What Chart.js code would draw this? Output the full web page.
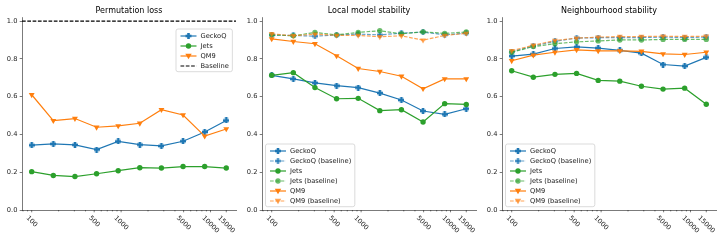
<!DOCTYPE html>
<html>
<head>
<meta charset="utf-8">
<script src="https://cdn.jsdelivr.net/npm/chart.js"></script>
<style>
  body { margin: 0; background: #fff; }
  #wrap { position: relative; width: 727px; height: 242px; }
  #wrap canvas { position: absolute; top: 0; }
</style>
</head>
<body>
<div id="wrap">
  <canvas id="permChart" width="240" height="242" style="left:0"></canvas>
  <canvas id="localChart" width="240" height="242" style="left:240px"></canvas>
  <canvas id="neighChart" width="240" height="242" style="left:480px"></canvas>
</div>
<script>
// training set sizes (log-spaced)
const sampleSizes = [100, 174.5, 304.6, 531.5, 927.5, 1618.6, 2824.5, 4929, 8601, 15000];
const xTickValues = [100, 500, 1000, 5000, 10000, 15000];
const xTickLabels = ['100', '500', '1000', '5000', '10000', '15000'];
const yTickValues = [0, 0.2, 0.4, 0.6, 0.8, 1.0];

// Permutation loss
const permGeckoQ = [0.343, 0.350, 0.345, 0.320, 0.363, 0.346, 0.339, 0.364, 0.413, 0.474];
const permJets = [0.203, 0.183, 0.177, 0.192, 0.208, 0.224, 0.222, 0.230, 0.230, 0.222];
const permQM9 = [0.610, 0.473, 0.484, 0.438, 0.445, 0.459, 0.531, 0.503, 0.391, 0.429];
const permBaseline = 1.0;

// Local model stability
const localGeckoQ = [0.713, 0.694, 0.673, 0.658, 0.648, 0.619, 0.582, 0.524, 0.506, 0.536];
const localGeckoQBase = [0.926, 0.924, 0.920, 0.926, 0.931, 0.927, 0.936, 0.942, 0.927, 0.936];
const localJets = [0.713, 0.727, 0.648, 0.589, 0.591, 0.526, 0.531, 0.466, 0.563, 0.559];
const localJetsBase = [0.927, 0.922, 0.940, 0.927, 0.940, 0.949, 0.933, 0.943, 0.935, 0.942];
const localQM9 = [0.906, 0.892, 0.880, 0.816, 0.749, 0.733, 0.708, 0.642, 0.694, 0.694];
const localQM9Base = [0.933, 0.922, 0.931, 0.924, 0.924, 0.917, 0.922, 0.899, 0.924, 0.935];

// Neighbourhood stability
const neighGeckoQ = [0.815, 0.825, 0.855, 0.863, 0.857, 0.845, 0.830, 0.770, 0.762, 0.808];
const neighGeckoQBase = [0.838, 0.868, 0.893, 0.910, 0.912, 0.912, 0.913, 0.915, 0.913, 0.915];
const neighJets = [0.737, 0.703, 0.718, 0.723, 0.686, 0.682, 0.655, 0.640, 0.645, 0.560];
const neighJetsBase = [0.835, 0.865, 0.880, 0.890, 0.895, 0.900, 0.900, 0.903, 0.903, 0.903];
const neighQM9 = [0.790, 0.820, 0.835, 0.848, 0.842, 0.842, 0.840, 0.826, 0.823, 0.835];
const neighQM9Base = [0.843, 0.872, 0.897, 0.910, 0.915, 0.918, 0.918, 0.920, 0.918, 0.920];

const BLUE = '#1f77b4', GREEN = '#2ca02c', ORANGE = '#ff7f0e';
const BLUE_A = 'rgba(31,119,180,0.7)', GREEN_A = 'rgba(44,160,44,0.7)', ORANGE_A = 'rgba(255,127,14,0.7)';
const FONT = '"DejaVu Sans", sans-serif';
const AXIS = '#222';
const DASH = [3.7, 1.6];

// filled plus marker, like matplotlib 'P'
function plusImage(color) {
	const c = document.createElement('canvas');
	c.width = 6; c.height = 6;
	const g = c.getContext('2d');
	g.fillStyle = color;
	g.fillRect(1.7, 0, 2.6, 6);
	g.fillRect(0, 1.7, 6, 2.6);
	return c;
}

function drawMarker(ctx, marker, color, x, y) {
	ctx.save();
	ctx.fillStyle = color;
	if (marker === 'plus') {
		ctx.fillRect(x - 3, y - 1.3, 6, 2.6);
		ctx.fillRect(x - 1.3, y - 3, 2.6, 6);
	} else if (marker === 'circle') {
		ctx.beginPath();
		ctx.arc(x, y, 2.7, 0, Math.PI * 2);
		ctx.fill();
	} else {
		ctx.beginPath();
		ctx.moveTo(x - 3.2, y - 2.2);
		ctx.lineTo(x + 3.2, y - 2.2);
		ctx.lineTo(x, y + 3.2);
		ctx.closePath();
		ctx.fill();
	}
	ctx.restore();
}

function series(label, values, color, marker, dashed) {
	const ds = {
		label: label,
		data: values.map((v, i) => ({ x: sampleSizes[i], y: v })),
		borderColor: color,
		backgroundColor: color,
		borderWidth: 1.2,
		borderDash: dashed ? DASH : [],
		pointBorderColor: color,
		pointBackgroundColor: color,
		pointBorderWidth: 0,
		pointRadius: 3,
		tension: 0,
		marker: marker,
		dashed: dashed
	};
	if (marker === 'plus') {
		ds.pointStyle = plusImage(color);
	} else if (marker === 'circle') {
		ds.pointStyle = 'circle';
		ds.pointRadius = 2.7;
	} else {
		ds.pointStyle = 'triangle';
		ds.pointRotation = 180;
		ds.pointRadius = 3.4;
	}
	return ds;
}

function decorPlugin(title, legend, baseline) {
	return {
		id: 'decor',
		beforeDatasetsDraw(chart) {
			if (baseline === undefined) return;
			const ctx = chart.ctx, a = chart.chartArea;
			const y = chart.scales.y.getPixelForValue(baseline);
			ctx.save();
			ctx.strokeStyle = '#000';
			ctx.lineWidth = 1.1;
			ctx.setLineDash(DASH);
			ctx.beginPath();
			ctx.moveTo(a.left, y);
			ctx.lineTo(a.right, y);
			ctx.stroke();
			ctx.restore();
		},
		afterDraw(chart) {
			const ctx = chart.ctx, a = chart.chartArea, xs = chart.scales.x;
			ctx.save();
			// title
			ctx.fillStyle = '#000';
			ctx.font = '8px ' + FONT;
			ctx.textAlign = 'center';
			ctx.textBaseline = 'middle';
			ctx.fillText(title, (a.left + a.right) / 2, 10.5);

			// x ticks, major and minor
			ctx.strokeStyle = AXIS;
			ctx.lineWidth = 0.6;
			const minX = xs.min, maxX = xs.max;
			for (let d = 10; d <= 100000; d *= 10) {
				for (let m = 2; m <= 9; m++) {
					const v = d * m;
					if (v < minX || v > maxX || xTickValues.includes(v)) continue;
					const px = xs.getPixelForValue(v);
					ctx.beginPath();
					ctx.moveTo(px, a.bottom);
					ctx.lineTo(px, a.bottom + 1.4);
					ctx.stroke();
				}
			}
			ctx.font = '6.7px ' + FONT;
			ctx.fillStyle = AXIS;
			xTickValues.forEach((v, i) => {
				const px = xs.getPixelForValue(v);
				ctx.beginPath();
				ctx.moveTo(px, a.bottom);
				ctx.lineTo(px, a.bottom + 2.3);
				ctx.stroke();
				const w = ctx.measureText(xTickLabels[i]).width;
				const bh = (w + 6.7) * Math.SQRT1_2;
				ctx.save();
				ctx.translate(px, a.bottom + 4.6 + bh / 2);
				ctx.rotate(Math.PI / 4);
				ctx.textAlign = 'center';
				ctx.textBaseline = 'middle';
				ctx.fillText(xTickLabels[i], 0, 0);
				ctx.restore();
			});

			// legend
			ctx.font = '6.7px ' + FONT;
			const textW = Math.max(...legend.entries.map(e => ctx.measureText(e.label).width));
			const bw = 24.5 + textW + 3.5;
			const bh = legend.entries.length * 10 + 2.7;
			const bx = legend.left;
			const by = legend.top !== undefined ? legend.top : a.bottom - 3.3 - bh;
			ctx.fillStyle = 'rgba(255,255,255,0.8)';
			ctx.strokeStyle = '#cccccc';
			ctx.lineWidth = 0.7;
			ctx.setLineDash([]);
			ctx.beginPath();
			ctx.roundRect(bx, by, bw, bh, 2);
			ctx.fill();
			ctx.stroke();
			legend.entries.forEach((e, i) => {
				const ry = by + 7 + i * 10;
				ctx.strokeStyle = e.color;
				ctx.lineWidth = 1.2;
				ctx.setLineDash(e.dashed ? DASH : []);
				ctx.beginPath();
				ctx.moveTo(bx + 4.5, ry);
				ctx.lineTo(bx + 20.5, ry);
				ctx.stroke();
				ctx.setLineDash([]);
				if (e.marker) drawMarker(ctx, e.marker, e.color, bx + 12.5, ry);
				ctx.fillStyle = AXIS;
				ctx.textAlign = 'left';
				ctx.textBaseline = 'middle';
				ctx.fillText(e.label, bx + 24.5, ry + 0.3);
			});
			ctx.restore();
		}
	};
}

function makeChart(id, title, datasets, legend, baseline) {
	datasets.forEach((d, i) => { d.order = datasets.length - i; });
	const entries = legend.entries || datasets.map(d => ({ label: d.label, color: d.borderColor, marker: d.marker, dashed: d.dashed }));
	legend.entries = entries;
	return new Chart(document.getElementById(id), {
		type: 'line',
		data: { datasets: datasets },
		options: {
			responsive: false,
			animation: false,
			devicePixelRatio: 1,
			layout: { padding: { top: 17.3, right: 4, bottom: 32, left: 0 } },
			plugins: { legend: { display: false }, tooltip: { enabled: false } },
			scales: {
				x: {
					type: 'logarithmic',
					min: 77.9,
					max: 19270,
					grid: { display: false, drawTicks: false },
					border: { display: true, color: AXIS, width: 0.6 },
					ticks: { display: false },
					afterFit: function(scale) { scale.height = 0; }
				},
				y: {
					min: 0,
					max: 1.02,
					afterBuildTicks: function(scale) { scale.ticks = yTickValues.map(v => ({ value: v })); },
					afterFit: function(scale) { scale.width = 22; },
					grid: { drawOnChartArea: false, drawTicks: true, tickLength: 2.3, tickColor: AXIS, tickWidth: 0.6 },
					border: { display: true, color: AXIS, width: 0.6 },
					ticks: {
						padding: 2.3,
						color: AXIS,
						font: { family: FONT, size: 6.7 },
						callback: function(v) { return Number(v).toFixed(1); }
					}
				}
			}
		},
		plugins: [decorPlugin(title, legend, baseline)]
	});
}

makeChart('permChart', 'Permutation loss', [
	series('GeckoQ', permGeckoQ, BLUE, 'plus', false),
	series('Jets', permJets, GREEN, 'circle', false),
	series('QM9', permQM9, ORANGE, 'triangle', false)
], {
	left: 176, top: 29,
	entries: [
		{ label: 'GeckoQ', color: BLUE, marker: 'plus' },
		{ label: 'Jets', color: GREEN, marker: 'circle' },
		{ label: 'QM9', color: ORANGE, marker: 'triangle' },
		{ label: 'Baseline', color: '#000', dashed: true }
	]
}, permBaseline);

makeChart('localChart', 'Local model stability', [
	series('GeckoQ', localGeckoQ, BLUE, 'plus', false),
	series('GeckoQ (baseline)', localGeckoQBase, BLUE_A, 'plus', true),
	series('Jets', localJets, GREEN, 'circle', false),
	series('Jets (baseline)', localJetsBase, GREEN_A, 'circle', true),
	series('QM9', localQM9, ORANGE, 'triangle', false),
	series('QM9 (baseline)', localQM9Base, ORANGE_A, 'triangle', true)
], { left: 25.5 });

makeChart('neighChart', 'Neighbourhood stability', [
	series('GeckoQ', neighGeckoQ, BLUE, 'plus', false),
	series('GeckoQ (baseline)', neighGeckoQBase, BLUE_A, 'plus', true),
	series('Jets', neighJets, GREEN, 'circle', false),
	series('Jets (baseline)', neighJetsBase, GREEN_A, 'circle', true),
	series('QM9', neighQM9, ORANGE, 'triangle', false),
	series('QM9 (baseline)', neighQM9Base, ORANGE_A, 'triangle', true)
], { left: 25.5 });
</script>
</body>
</html>
